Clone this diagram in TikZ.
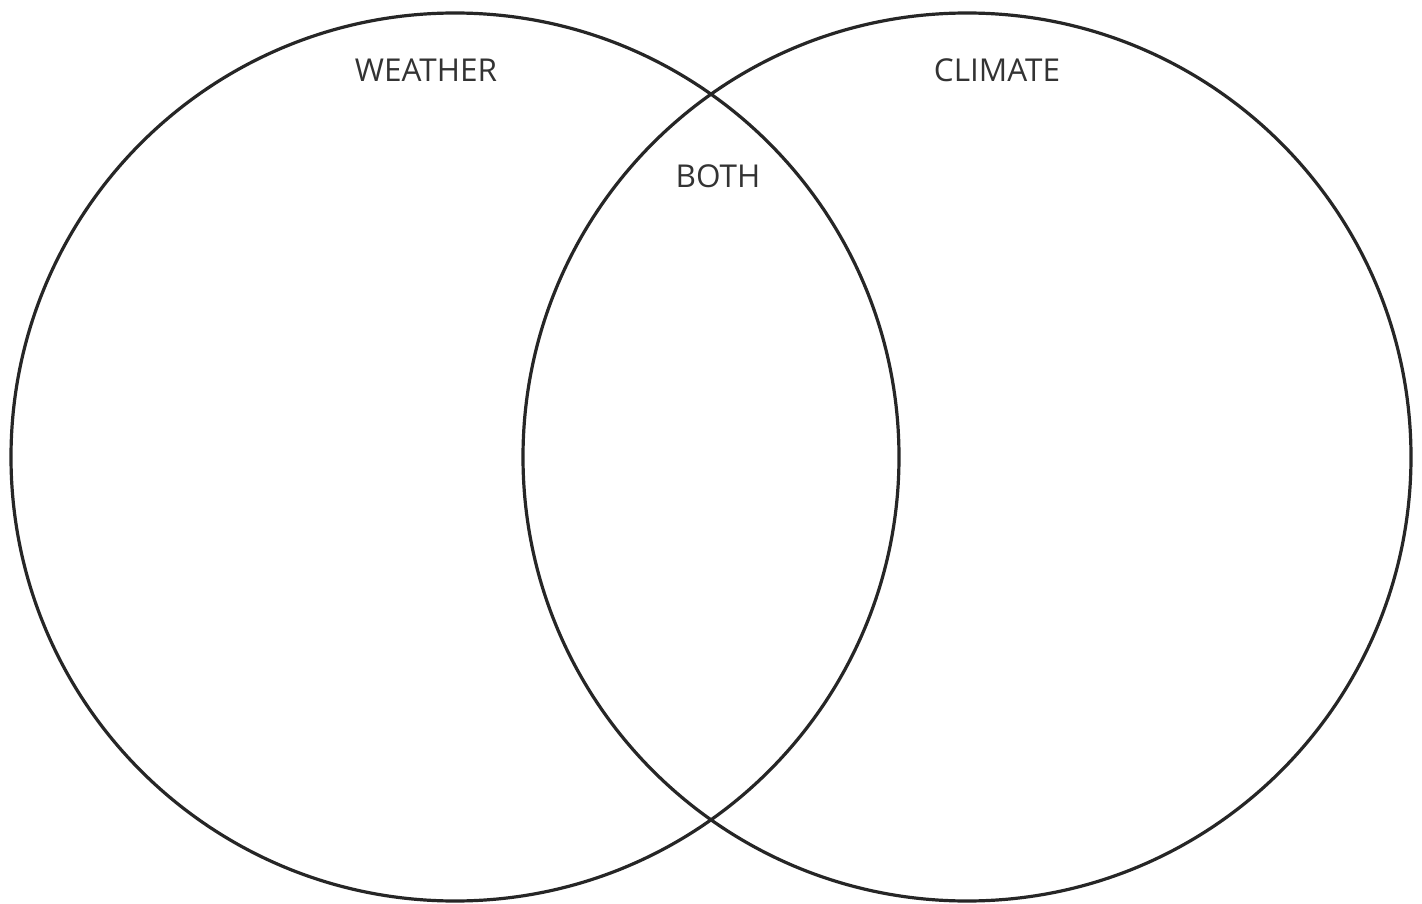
\documentclass[tikz,border=0pt]{standalone}
\usepackage{fontspec}
\setmainfont{Open Sans}
\begin{document}
\begin{tikzpicture}[x=1pt,y=-1pt,
  ring/.style={draw=black!85,line width=3.2pt},
  lbl/.style={font=\fontsize{31.5}{36}\selectfont,text=black!80,inner sep=0pt}]
\useasboundingbox (0,0) rectangle (1422,904);
\fill[white] (0,0) rectangle (1422,904);
\draw[ring] (455,457) circle (444);
\draw[ring] (967,457) circle (444);
\node[lbl] (weather) at (426,70) {WEATHER};
\node[lbl] (climate) at (997,70) {CLIMATE};
\node[lbl] (both) at (718,176) {BOTH};
\end{tikzpicture}
\end{document}
